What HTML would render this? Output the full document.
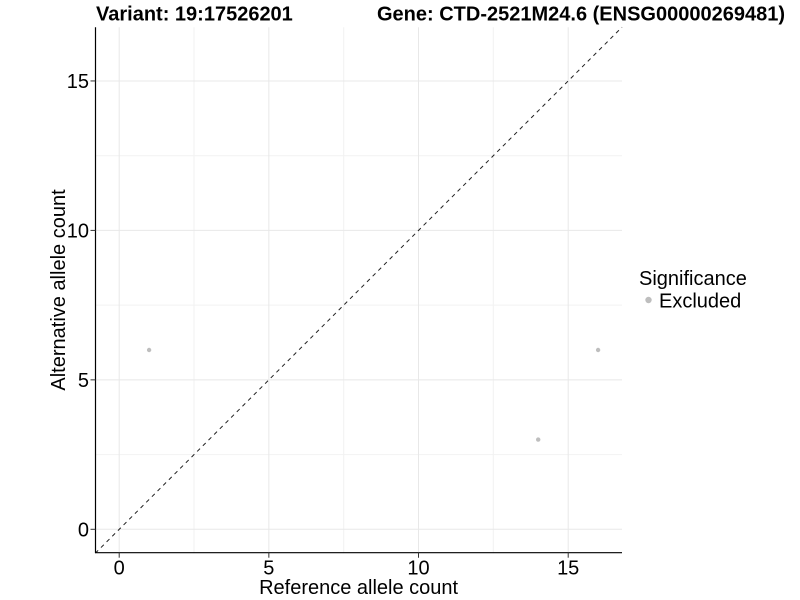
<!DOCTYPE html>
<html>
<head>
<meta charset="utf-8">
<style>
html,body{margin:0;padding:0;background:#fff;}
svg{display:block;}
text{font-family:"Liberation Sans",Arial,sans-serif;}
</style>
</head>
<body>
<svg width="800" height="600" viewBox="0 0 800 600" xmlns="http://www.w3.org/2000/svg">
  <rect x="0" y="0" width="800" height="600" fill="#fff"/>
  <!-- minor grid -->
  <g stroke="#f2f2f2" stroke-width="1">
    <line x1="194.0" y1="27.2" x2="194.0" y2="553.2"/>
    <line x1="343.7" y1="27.2" x2="343.7" y2="553.2"/>
    <line x1="493.3" y1="27.2" x2="493.3" y2="553.2"/>
    <line x1="95.3" y1="454.6" x2="622" y2="454.6"/>
    <line x1="95.3" y1="305.1" x2="622" y2="305.1"/>
    <line x1="95.3" y1="155.7" x2="622" y2="155.7"/>
  </g>
  <!-- major grid -->
  <g stroke="#e8e8e8" stroke-width="1">
    <line x1="119.2" y1="27.2" x2="119.2" y2="553.2"/>
    <line x1="268.85" y1="27.2" x2="268.85" y2="553.2"/>
    <line x1="418.5" y1="27.2" x2="418.5" y2="553.2"/>
    <line x1="568.2" y1="27.2" x2="568.2" y2="553.2"/>
    <line x1="95.3" y1="529.3" x2="622" y2="529.3"/>
    <line x1="95.3" y1="379.85" x2="622" y2="379.85"/>
    <line x1="95.3" y1="230.4" x2="622" y2="230.4"/>
    <line x1="95.3" y1="80.95" x2="622" y2="80.95"/>
  </g>
  <!-- points -->
  <g fill="#bebebe">
    <circle cx="149.1" cy="350" r="2.2"/>
    <circle cx="538.2" cy="439.6" r="2.2"/>
    <circle cx="598.1" cy="350" r="2.2"/>
  </g>
  <!-- identity line -->
  <line x1="95.3" y1="553.2" x2="622" y2="27.2" stroke="#222" stroke-width="1" stroke-dasharray="4,4"/>
  <!-- axes -->
  <line x1="95.5" y1="27.2" x2="95.5" y2="553" stroke="#000" stroke-width="1.2"/>
  <line x1="95.3" y1="552.7" x2="622" y2="552.7" stroke="#000" stroke-width="1.2"/>
  <!-- ticks -->
  <g stroke="#333" stroke-width="1">
    <line x1="90.5" y1="529.3" x2="95.5" y2="529.3"/>
    <line x1="90.5" y1="379.85" x2="95.5" y2="379.85"/>
    <line x1="90.5" y1="230.4" x2="95.5" y2="230.4"/>
    <line x1="90.5" y1="80.95" x2="95.5" y2="80.95"/>
    <line x1="119.2" y1="552.7" x2="119.2" y2="557.7"/>
    <line x1="268.85" y1="552.7" x2="268.85" y2="557.7"/>
    <line x1="418.5" y1="552.7" x2="418.5" y2="557.7"/>
    <line x1="568.2" y1="552.7" x2="568.2" y2="557.7"/>
  </g>
  <!-- tick labels -->
  <g font-size="20" fill="#000">
    <text x="89" y="536.5" text-anchor="end">0</text>
    <text x="89" y="387" text-anchor="end">5</text>
    <text x="89" y="237.6" text-anchor="end">10</text>
    <text x="89" y="88.1" text-anchor="end">15</text>
    <text x="119.2" y="574.3" text-anchor="middle">0</text>
    <text x="268.85" y="574.3" text-anchor="middle">5</text>
    <text x="418.5" y="574.3" text-anchor="middle">10</text>
    <text x="568.2" y="574.3" text-anchor="middle">15</text>
  </g>
  <!-- axis titles -->
  <text x="358.6" y="594" font-size="20" text-anchor="middle" fill="#000">Reference allele count</text>
  <text transform="translate(65,290) rotate(-90)" font-size="20" text-anchor="middle" fill="#000">Alternative allele count</text>
  <!-- titles -->
  <text x="96" y="20.5" font-size="20" font-weight="bold" fill="#000">Variant: 19:17526201</text>
  <text x="785" y="20.5" font-size="20" font-weight="bold" text-anchor="end" fill="#000">Gene: CTD-2521M24.6 (ENSG00000269481)</text>
  <!-- legend -->
  <text x="639" y="285" font-size="20" fill="#000">Significance</text>
  <circle cx="648.5" cy="300" r="3.2" fill="#bebebe"/>
  <text x="659" y="307.5" font-size="20" fill="#000">Excluded</text>
</svg>
</body>
</html>
